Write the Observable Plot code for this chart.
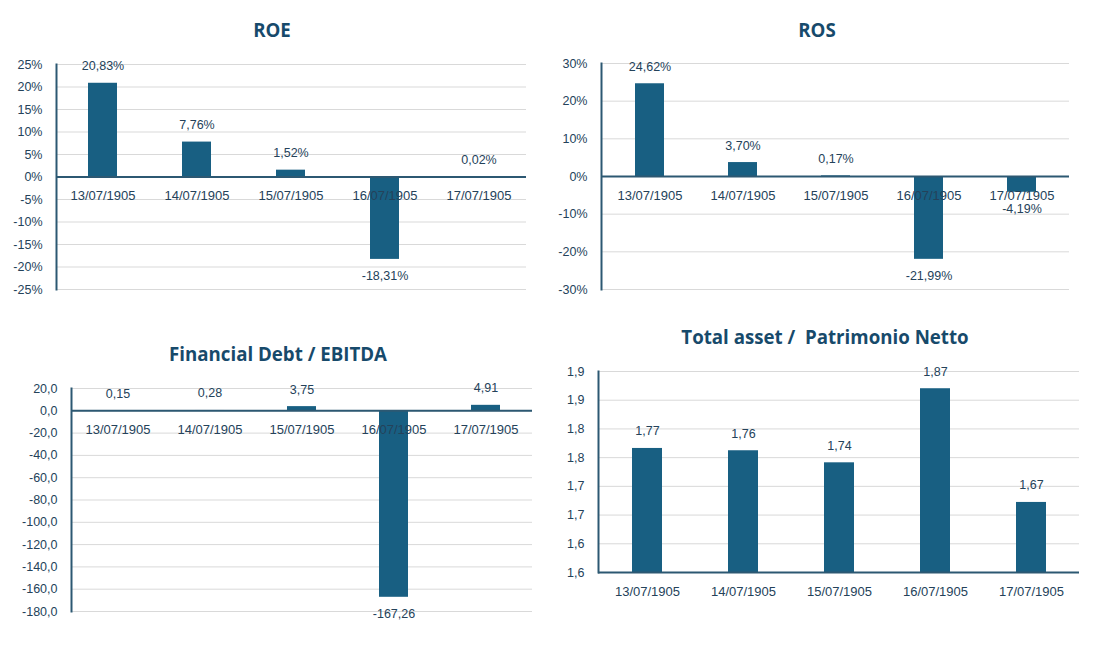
<!DOCTYPE html>
<html><head><meta charset="utf-8">
<script src="https://cdn.jsdelivr.net/npm/d3@7"></script>
<script src="https://cdn.jsdelivr.net/npm/@observablehq/plot@0.6"></script>
<style>
body{margin:0;background:#fff;}
#root{position:relative;width:1100px;height:646px;overflow:hidden;background:#fff;}
.title{position:absolute;transform:translate(-50%,-50%);font-family:"Open Sans",sans-serif;font-weight:700;font-size:18.7px;color:#174a6b;white-space:pre;line-height:1;}
.panel{position:absolute;}
</style></head><body><div id="root"></div>
<script>
// ---- data ----
const dates = ["13/07/1905","14/07/1905","15/07/1905","16/07/1905","17/07/1905"];

const roeValues = [0.2083, 0.0776, 0.0152, -0.1831, 0.0002];
const roeTicks = [-0.25,-0.20,-0.15,-0.10,-0.05,0,0.05,0.10,0.15,0.20,0.25];

const rosValues = [0.2462, 0.0370, 0.0017, -0.2199, -0.0419];
const rosTicks = [-0.30,-0.20,-0.10,0,0.10,0.20,0.30];

const debtValues = [0.15, 0.28, 3.75, -167.26, 4.91];
const debtTicks = [-180,-160,-140,-120,-100,-80,-60,-40,-20,0,20];

const assetValues = [1.766, 1.762, 1.741, 1.870, 1.672];
const assetTicks = [1.55,1.60,1.65,1.70,1.75,1.80,1.85,1.90];
const assetTickLabels = ["1,6","1,6","1,7","1,7","1,8","1,8","1,9","1,9"];

const titles = ["ROE","ROS","Financial Debt / EBITDA","Total asset /  Patrimonio Netto"];

// ---- drawing ----
const BAR = "#185f82", AXIS = "#2c5872", GRID = "#d9d9d9", TEXT = "#24425a";
const root = document.getElementById("root");
const pct = d => Math.round(d*100) + "%";
const pct2 = d => (d*100).toFixed(2).replace(".", ",") + "%";
const dec1 = d => d.toFixed(1).replace(".", ",");
const dec2 = d => d.toFixed(2).replace(".", ",");

function addTitle(text, x, y){
  const t = document.createElement("div");
  t.className = "title"; t.textContent = text;
  t.style.left = x + "px"; t.style.top = y + "px";
  root.appendChild(t);
}

function panel(o){
  const data = dates.map((d,i) => ({date:d, value:o.values[i]}));
  const pos = data.filter(d => d.value >= o.base);
  const neg = data.filter(d => d.value < o.base);
  const chart = Plot.plot({
    width: o.width, height: o.height,
    marginLeft: o.m[3], marginRight: o.m[1], marginTop: o.m[0], marginBottom: o.m[2],
    style: {fontFamily:"'Liberation Sans', Arial, sans-serif", fontSize:"12.5px", color:TEXT, background:"transparent", overflow:"visible"},
    x: {type:"band", domain: dates, paddingInner: 0.69, paddingOuter: 0.345, axis: null},
    y: {domain: o.domain},
    marks: [
      Plot.gridY(o.ticks, {stroke: GRID, strokeOpacity: 1, strokeWidth: 1}),
      Plot.barY(data, {x:"date", y1: o.base, y2:"value", fill: BAR}),
      Plot.ruleY([o.base], {stroke: AXIS, strokeWidth: 2}),
      Plot.frame({anchor:"left", stroke: AXIS, strokeWidth: 2}),
      Plot.axisY(o.ticks, {tickSize: 0, tickPadding: 14, tickFormat: o.tickFmt, fill: TEXT, label: null}),
      Plot.text(data, {x:"date", y: () => o.base, text:"date", dy: 19, fontSize: 13, fill: TEXT}),
      Plot.text(pos, {x:"date", y:"value", text: d => o.labelFmt(d.value), dy: -17, fill: TEXT}),
      Plot.text(neg, {x:"date", y:"value", text: d => o.labelFmt(d.value), dy: 17, fill: TEXT})
    ]
  });
  chart.classList.add("panel");
  chart.style.left = o.left + "px";
  chart.style.top = o.top + "px";
  root.appendChild(chart);
}

panel({values: roeValues, domain:[-0.25,0.25], ticks: roeTicks, tickFmt: pct, labelFmt: pct2, base: 0,
  left: 0, top: 50, width: 550, height: 260, m: [14, 24, 21, 56]});
panel({values: rosValues, domain:[-0.30,0.30], ticks: rosTicks, tickFmt: pct, labelFmt: pct2, base: 0,
  left: 550, top: 50, width: 550, height: 260, m: [13, 31, 21, 51]});
panel({values: debtValues, domain:[-180,20], ticks: debtTicks, tickFmt: dec1, labelFmt: dec2, base: 0,
  left: 0, top: 370, width: 550, height: 260, m: [18, 18, 19, 71]});
panel({values: assetValues, domain:[1.55,1.90], ticks: assetTicks,
  tickFmt: d => assetTickLabels[assetTicks.indexOf(d)], labelFmt: dec2, base: 1.55,
  left: 550, top: 355, width: 550, height: 260, m: [16, 21, 43, 48]});

addTitle(titles[0], 272, 30);
addTitle(titles[1], 817, 30);
addTitle(titles[2], 278, 354);
addTitle(titles[3], 825, 337);
</script>
</body></html>
